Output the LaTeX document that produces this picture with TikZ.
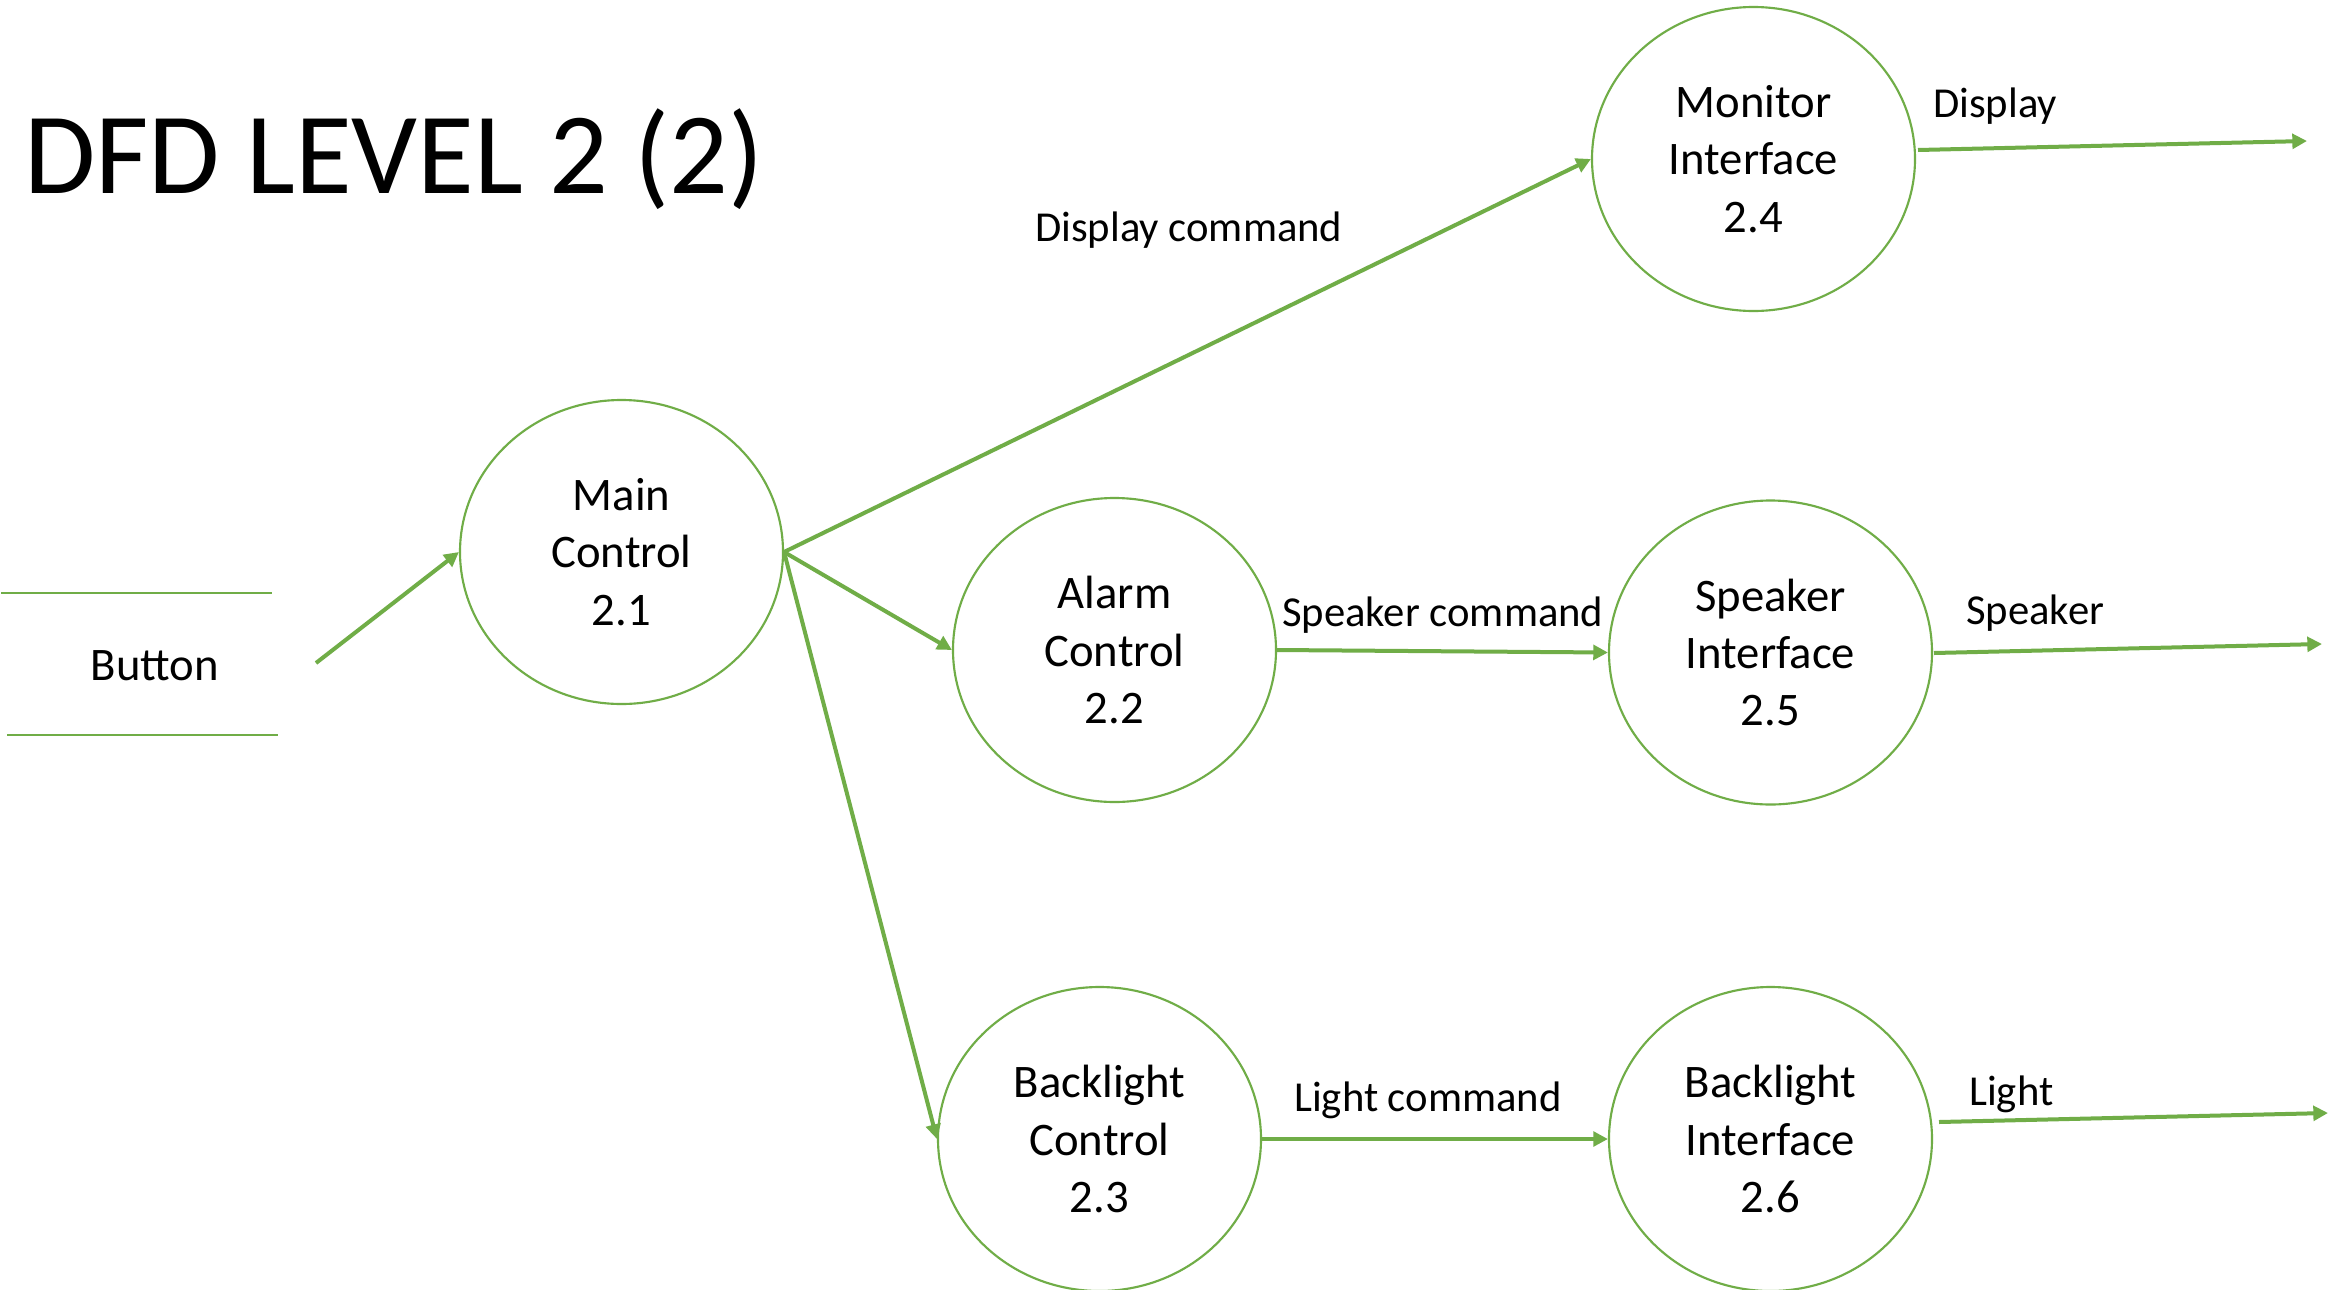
\documentclass[tikz,border=0pt]{standalone}
\usepackage{fontspec}
\setmainfont{Carlito}
\usetikzlibrary{shapes.geometric,arrows.meta,calc}
\definecolor{dfdgreen}{HTML}{70AD47}
\begin{document}
\begin{tikzpicture}[x=0.75pt,y=-0.75pt,
  proc/.style={ellipse,draw=dfdgreen,line width=1.6pt,minimum width=242.25pt,minimum height=228pt,inner sep=0pt,align=center,font=\fontsize{35}{43}\selectfont},
  flow/.style={draw=dfdgreen,line width=3pt,-{Triangle[length=11pt,width=11pt]}},
  lbl/.style={font=\fontsize{32}{38}\selectfont,inner sep=0pt,anchor=base west},
  storeline/.style={draw=dfdgreen,line width=1.1pt}]
\useasboundingbox[fill=white] (0,0) rectangle (2331,1289);
% title
\node[anchor=base west,inner sep=0pt,font=\fontsize{87}{100}\selectfont] (title) at (24,193) {DFD LEVEL 2 (2)};
% processes
\node[proc] (mc) at (621.5,552) {Main\\Control\\2.1};
\node[proc] (ac) at (1114.5,650) {Alarm\\Control\\2.2};
\node[proc] (bc) at (1099.5,1139) {Backlight\\Control\\2.3};
\node[proc] (mi) at (1753.5,159) {Monitor\\Interface\\2.4};
\node[proc] (si) at (1770.5,652.5) {Speaker\\Interface\\2.5};
\node[proc] (bi) at (1770.5,1139) {Backlight\\Interface\\2.6};
% data store
\node[font=\fontsize{35}{43}\selectfont,inner sep=0pt,anchor=base] (btn) at (155,680) {Button};
\coordinate (s1a) at (1,593); \coordinate (s1b) at (272,593);
\coordinate (s2a) at (7,735); \coordinate (s2b) at (278,735);
\draw[storeline] (s1a) -- (s1b);
\draw[storeline] (s2a) -- (s2b);
% flows
\coordinate (btnout) at (316,663);
\draw[flow] (btnout) -- (mc.west);
\draw[flow] (mc.east) -- (mi.west);
\draw[flow] (mc.east) -- (ac.west);
\draw[flow] (mc.east) -- (bc.west);
\draw[flow] (ac.east) -- (si.west);
\draw[flow] (bc.east) -- (bi.west);
\coordinate (miout) at (1918,150); \coordinate (dispend) at (2307,141);
\coordinate (siout) at (1934,653); \coordinate (spkend) at (2322,644);
\coordinate (biout) at (1939,1122); \coordinate (lightend) at (2328,1113);
\draw[flow] (miout) -- (dispend);
\draw[flow] (siout) -- (spkend);
\draw[flow] (biout) -- (lightend);
% labels
\node[lbl] (l1) at (1035,241) {Display command};
\node[lbl] (l2) at (1282,626) {Speaker command};
\node[lbl] (l3) at (1294,1111) {Light command};
\node[lbl] (l4) at (1933,117) {Display};
\node[lbl] (l5) at (1966,624) {Speaker};
\node[lbl] (l6) at (1969,1105) {Light};
\end{tikzpicture}
\end{document}
